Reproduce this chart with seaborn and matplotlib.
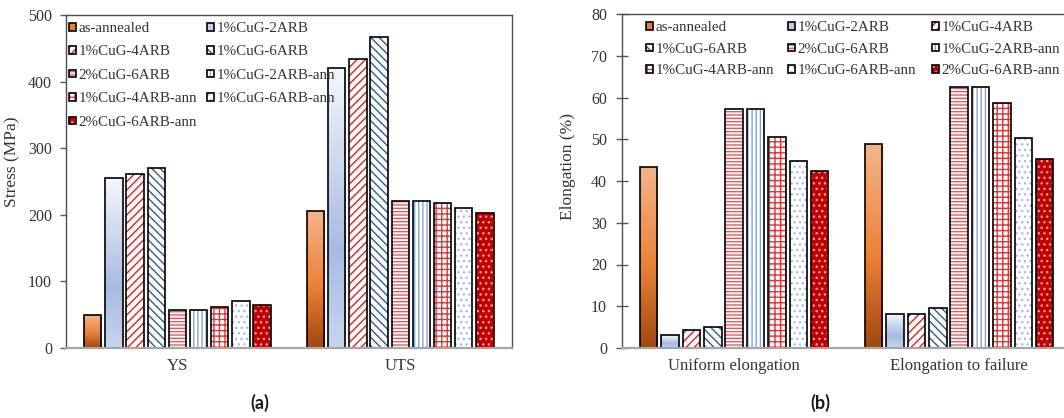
import numpy as np
import pandas as pd
import matplotlib
matplotlib.use("Agg")
import matplotlib.pyplot as plt
import seaborn as sns
from matplotlib.patches import Patch, Rectangle
from matplotlib.colors import LinearSegmentedColormap
from matplotlib.legend_handler import HandlerBase

# ---- data ----
materials = ["as-annealed", "1%CuG-2ARB", "1%CuG-4ARB", "1%CuG-6ARB", "2%CuG-6ARB",
             "1%CuG-2ARB-ann", "1%CuG-4ARB-ann", "1%CuG-6ARB-ann", "2%CuG-6ARB-ann"]

strength_props = ["YS", "UTS"]
ys_mpa = [49, 255, 262, 271, 57, 57, 61, 70, 65]
uts_mpa = [205, 421, 434, 467, 221, 221, 218, 210, 202]

elong_props = ["Uniform elongation", "Elongation to failure"]
uniform_pct = [43.4, 3.1, 4.4, 5.1, 57.2, 57.2, 50.5, 44.8, 42.5]
failure_pct = [48.8, 8.2, 8.1, 9.7, 62.6, 62.6, 58.6, 50.4, 45.3]

stress_ticks = [0, 100, 200, 300, 400, 500]
elong_ticks = [0, 10, 20, 30, 40, 50, 60, 70, 80]

# ---- bar styles: face colour, hatch, hatch colour, gradient ----
orange_grad = LinearSegmentedColormap.from_list(
    "orange_grad", [(0, "#9E4810"), (0.45, "#EC8136"), (1, "#F4B58A")])
blue_grad = LinearSegmentedColormap.from_list(
    "blue_grad", [(0, "#C8D5EE"), (0.35, "#A7BBE2"), (1, "#F5F7FC")])

styles = {
    "as-annealed":    dict(fc="#EC7E33", hatch=None, hc="none", grad=orange_grad),
    "1%CuG-2ARB":     dict(fc="#BFCEEB", hatch=None, hc="none", grad=blue_grad),
    "1%CuG-4ARB":     dict(fc="white", hatch="////", hc="#E0201E", grad=None),
    "1%CuG-6ARB":     dict(fc="white", hatch="\\\\\\\\", hc="#2E5D8C", grad=None),
    "2%CuG-6ARB":     dict(fc="white", hatch="-----", hc="#E45A5E", grad=None),
    "1%CuG-2ARB-ann": dict(fc="white", hatch="||||", hc="#86A3D9", grad=None),
    "1%CuG-4ARB-ann": dict(fc="white", hatch="+++", hc="#E23434", grad=None),
    "1%CuG-6ARB-ann": dict(fc="white", hatch="...", hc="#A8BCE4", grad=None),
    "2%CuG-6ARB-ann": dict(fc="#C00000", hatch="...", hc="#F2A0A0", grad=None),
}

sns.set_style("white")
plt.rcParams["font.family"] = ["Liberation Serif", "DejaVu Serif"]
plt.rcParams["hatch.linewidth"] = 1.0
text_color = "#333333"
legend_size = 10.8


def long_frame(props, series):
    rows = []
    for prop, vals in zip(props, series):
        for mat, v in zip(materials, vals):
            rows.append({"property": prop, "material": mat, "value": v})
    return pd.DataFrame(rows)


def style_bars(ax):
    for mat, container in zip(materials, ax.containers):
        st = styles[mat]
        for p in container.patches:
            z = p.get_zorder()
            if st["grad"] is not None:
                p.set_facecolor("none")
                p.set_linewidth(0)
                x0, y0 = p.get_x(), p.get_y()
                x1, y1 = x0 + p.get_width(), y0 + p.get_height()
                grad = np.linspace(0, 1, 256).reshape(-1, 1)
                im = ax.imshow(grad, extent=[x0, x1, y0, y1], origin="lower",
                               aspect="auto", cmap=st["grad"], zorder=z + 0.1,
                               interpolation="bilinear")
                im.set_clip_path(p)
            else:
                p.set_facecolor(st["fc"])
                p.set_hatch(st["hatch"])
                p.set_edgecolor(st["hc"])
                p.set_linewidth(0)
            outline = Rectangle((p.get_x(), p.get_y()), p.get_width(), p.get_height(),
                                fill=False, edgecolor="black", linewidth=1.2,
                                zorder=z + 0.2)
            ax.add_patch(outline)


class SquareSwatch(HandlerBase):
    """Small framed square swatch; the hatch keeps its own colour."""

    def __init__(self, size=5.4, **kw):
        super().__init__(**kw)
        self.size = size

    def create_artists(self, legend, orig_handle, xdescent, ydescent,
                       width, height, fontsize, trans):
        inner, frame = orig_handle
        s = self.size
        cx = width / 2 - xdescent
        cy = height / 2 - ydescent
        r1 = Rectangle((cx - s / 2, cy - s / 2), s, s, facecolor=inner.get_facecolor(),
                       edgecolor=inner.get_edgecolor(), hatch=inner.get_hatch(),
                       linewidth=0, transform=trans)
        r2 = Rectangle((cx - s / 2, cy - s / 2), s, s, fill=False,
                       edgecolor=frame.get_edgecolor(), linewidth=1.2, transform=trans)
        return [r1, r2]


def legend_handles():
    hs = []
    for mat in materials:
        st = styles[mat]
        if st["hatch"] is None:
            inner = Patch(facecolor=st["fc"], edgecolor="none", linewidth=0)
        else:
            inner = Patch(facecolor=st["fc"], hatch=st["hatch"], edgecolor=st["hc"], linewidth=0)
        frame = Patch(facecolor="none", edgecolor="black", linewidth=1.2)
        hs.append((inner, frame))
    return hs


def column_legends(ax, columns, xs, y_top, spacing):
    """One single-column legend per column, so each column sits at its own x."""
    hs = legend_handles()
    legs = []
    for idx, x in zip(columns, xs):
        leg = ax.legend([hs[i] for i in idx], [materials[i] for i in idx],
                        handler_map={tuple: SquareSwatch()}, loc="upper left",
                        bbox_to_anchor=(x, y_top), frameon=False, fontsize=legend_size,
                        handlelength=0.65, handleheight=0.6, handletextpad=0.08,
                        labelspacing=spacing, borderpad=0, borderaxespad=0)
        for t in leg.get_texts():
            t.set_color(text_color)
        legs.append(leg)
    for leg in legs[:-1]:
        ax.add_artist(leg)


def style_axes(ax, ylim, yticks, tick_dir, tick_len):
    ax.set_xlim(-0.5, 1.5)
    ax.set_ylim(*ylim)
    ax.set_yticks(yticks)
    ax.set_xlabel("")
    ax.tick_params(axis="y", direction=tick_dir, length=tick_len, width=1,
                   color="#595959", labelsize=11.5, labelcolor=text_color, pad=6, left=True)
    ax.tick_params(axis="x", length=0, labelsize=12, labelcolor=text_color, pad=7)
    for side in ("left", "top", "right"):
        ax.spines[side].set_color("#4D4D4D")
        ax.spines[side].set_linewidth(1.0)
    ax.spines["bottom"].set_color("#A6A6A6")
    ax.spines["bottom"].set_linewidth(1.6)


W, H = 1064, 418
fig = plt.figure(figsize=(W / 100, H / 100), dpi=100)

# ---- (a) strength ----
axA = fig.add_axes([66 / W, 70 / H, 445.7 / W, 333 / H])
df_a = long_frame(strength_props, [ys_mpa, uts_mpa])
sns.barplot(data=df_a, x="property", y="value", hue="material", order=strength_props,
            hue_order=materials, width=0.855, gap=0.18, legend=False, ax=axA,
            color="white", saturation=1, err_kws={"linewidth": 0})
style_bars(axA)
style_axes(axA, (0, 500), stress_ticks, "out", 4)
axA.set_ylabel("Stress (MPa)", fontsize=12.5, color=text_color)
axA.yaxis.set_label_coords(-0.103, 0.56)
column_legends(axA, [[0, 2, 4, 6, 8], [1, 3, 5, 7]], [0.004, 0.3128], 0.979, 0.69)

# ---- (b) ductility ----
axB = fig.add_axes([621.7 / W, 70 / H, 450 / W, 334 / H])
df_b = long_frame(elong_props, [uniform_pct, failure_pct])
sns.barplot(data=df_b, x="property", y="value", hue="material", order=elong_props,
            hue_order=materials, width=0.855, gap=0.18, legend=False, ax=axB,
            color="white", saturation=1, err_kws={"linewidth": 0})
style_bars(axB)
style_axes(axB, (0, 80), elong_ticks, "inout", 9)
axB.set_ylabel("Elongation (%)", fontsize=12.5, color=text_color)
axB.yaxis.set_label_coords(-0.1016, 0.542)
column_legends(axB, [[0, 3, 6], [1, 4, 7], [2, 5, 8]], [0.0512, 0.3668, 0.6861],
               0.978, 0.56)

# ---- panel tags ----
fig.text(260 / W, 1 - 403 / H, "(a)", ha="center", va="center", fontsize=13,
         fontweight="bold", family=["Lato", "DejaVu Sans"], color="#1A1A1A")
fig.text(820 / W, 1 - 403 / H, "(b)", ha="center", va="center", fontsize=13,
         fontweight="bold", family=["Lato", "DejaVu Sans"], color="#1A1A1A")

fig.savefig("out.png", dpi=100)
